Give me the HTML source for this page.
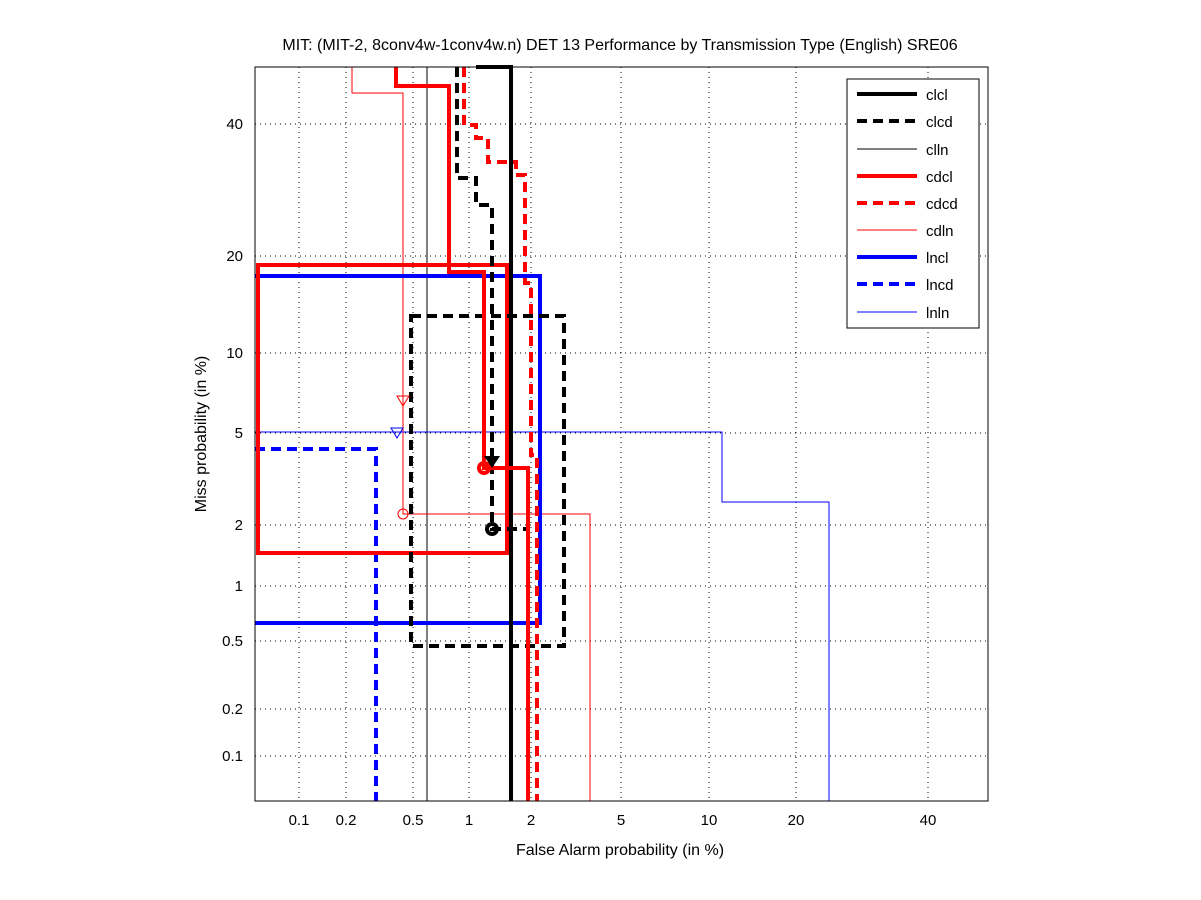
<!DOCTYPE html>
<html><head><meta charset="utf-8"><style>body{margin:0;background:#fff}svg{display:block}text{font-family:"Liberation Sans",sans-serif;font-size:15px;fill:#000}</style></head><body>
<svg width="1201" height="900" viewBox="0 0 1201 900">
<rect width="1201" height="900" fill="#fff"/>
<g stroke="#000" stroke-width="1" stroke-dasharray="1,4" shape-rendering="crispEdges">
<line x1="299" y1="67" x2="299" y2="801"/><line x1="346" y1="67" x2="346" y2="801"/><line x1="413" y1="67" x2="413" y2="801"/><line x1="469" y1="67" x2="469" y2="801"/><line x1="531" y1="67" x2="531" y2="801"/><line x1="621" y1="67" x2="621" y2="801"/><line x1="709" y1="67" x2="709" y2="801"/><line x1="796" y1="67" x2="796" y2="801"/><line x1="928" y1="67" x2="928" y2="801"/>
<line x1="255" y1="124" x2="988" y2="124"/><line x1="255" y1="256" x2="988" y2="256"/><line x1="255" y1="353" x2="988" y2="353"/><line x1="255" y1="433" x2="988" y2="433"/><line x1="255" y1="525" x2="988" y2="525"/><line x1="255" y1="586" x2="988" y2="586"/><line x1="255" y1="641" x2="988" y2="641"/><line x1="255" y1="709" x2="988" y2="709"/><line x1="255" y1="756" x2="988" y2="756"/>
</g>
<g fill="none" shape-rendering="crispEdges">
<line x1="427" y1="67" x2="427" y2="801" stroke="#000" stroke-width="1"/>
<path d="M352,67V93H403V514H590V801" stroke="#f00" stroke-width="1"/>
<path d="M255,432H722V502H829V801" stroke="#00f" stroke-width="1"/>
<path d="M255,276H540V623H255" stroke="#00f" stroke-width="4"/>
<path d="M255,449H376V801" stroke="#00f" stroke-width="4" stroke-dasharray="10,6"/>
<path d="M258,265H507V553H258Z" stroke="#f00" stroke-width="4"/>
<path d="M411,316H564V646H411Z" stroke="#000" stroke-width="4" stroke-dasharray="10,6"/>
<path d="M476,67H511V801" stroke="#000" stroke-width="4"/>
<path d="M457,67V178H476V205H492V529H528" stroke="#000" stroke-width="4" stroke-dasharray="10,6"/>
<path d="M396,67V86H449V272H484V468H528V801" stroke="#f00" stroke-width="4"/>
<path d="M464,67V125H476V138H488V162H516V175H525V283H531V455H537V801" stroke="#f00" stroke-width="4" stroke-dasharray="10,6"/>
</g>
<g fill="none">
<polygon points="397,396 409,396 403,406" stroke="#f00" stroke-width="1"/>
<polygon points="391,428 403,428 397,438" stroke="#00f" stroke-width="1"/>
<circle cx="403" cy="514" r="5" stroke="#f00" stroke-width="1"/>
<circle cx="492" cy="529" r="5" stroke="#000" stroke-width="4"/>
<circle cx="484" cy="468" r="5" stroke="#f00" stroke-width="4"/>
</g>
<polygon points="484,456 500,456 492,468" fill="#000"/>
<rect x="255" y="67" width="733" height="734" fill="none" stroke="#000" stroke-width="1" shape-rendering="crispEdges"/>
<g font-size="15" text-anchor="middle">
<text x="299" y="825">0.1</text><text x="346" y="825">0.2</text><text x="413" y="825">0.5</text><text x="469" y="825">1</text><text x="531" y="825">2</text><text x="621" y="825">5</text><text x="709" y="825">10</text><text x="796" y="825">20</text><text x="928" y="825">40</text>
</g>
<g text-anchor="end">
<text x="243" y="129">40</text><text x="243" y="261">20</text><text x="243" y="358">10</text><text x="243" y="438">5</text><text x="243" y="530">2</text><text x="243" y="591">1</text><text x="243" y="646">0.5</text><text x="243" y="714">0.2</text><text x="243" y="761">0.1</text>
</g>
<text x="620" y="50" text-anchor="middle" style="font-size:16px">MIT: (MIT-2, 8conv4w-1conv4w.n) DET 13 Performance by Transmission Type (English) SRE06</text>
<text x="620" y="855" text-anchor="middle" style="font-size:16px">False Alarm probability (in %)</text>
<text transform="translate(206,434) rotate(-90)" text-anchor="middle" style="font-size:16px">Miss probability (in %)</text>
<rect x="847" y="79" width="132" height="249" fill="#fff" stroke="#000" shape-rendering="crispEdges"/>
<g fill="none" shape-rendering="crispEdges">
<line x1="857" y1="94" x2="917" y2="94" stroke="#000" stroke-width="4"/>
<line x1="857" y1="121" x2="917" y2="121" stroke="#000" stroke-width="4" stroke-dasharray="10,6"/>
<line x1="857" y1="149" x2="917" y2="149" stroke="#000" stroke-width="1"/>
<line x1="857" y1="176" x2="917" y2="176" stroke="#f00" stroke-width="4"/>
<line x1="857" y1="203" x2="917" y2="203" stroke="#f00" stroke-width="4" stroke-dasharray="10,6"/>
<line x1="857" y1="230" x2="917" y2="230" stroke="#f00" stroke-width="1"/>
<line x1="857" y1="257" x2="917" y2="257" stroke="#00f" stroke-width="4"/>
<line x1="857" y1="284" x2="917" y2="284" stroke="#00f" stroke-width="4" stroke-dasharray="10,6"/>
<line x1="857" y1="312" x2="917" y2="312" stroke="#00f" stroke-width="1"/>
</g>
<g style="font-size:16px">
<text x="926" y="100">clcl</text><text x="926" y="127">clcd</text><text x="926" y="155">clln</text><text x="926" y="182">cdcl</text><text x="926" y="209">cdcd</text><text x="926" y="236">cdln</text><text x="926" y="263">lncl</text><text x="926" y="290">lncd</text><text x="926" y="318">lnln</text>
</g>
</svg>
</body></html>
